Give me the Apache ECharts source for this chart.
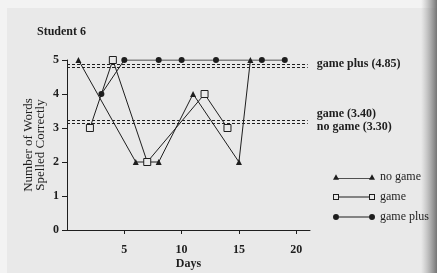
<!DOCTYPE html>
<html>
<head>
<meta charset="utf-8">
<script src="https://cdn.jsdelivr.net/npm/echarts@6/dist/echarts.min.js"></script>
<style>
  html, body { margin: 0; padding: 0; }
  #chart { width: 437px; height: 273px; }
</style>
</head>
<body>
<div id="chart"></div>
<script>
// days and scores
const noGameDays = [1, 6, 8, 11, 15, 16];
const noGameScores = [5, 2, 2, 4, 2, 5];
const gameDays = [2, 4, 7, 12, 14];
const gameScores = [3, 5, 2, 4, 3];
const gamePlusDays = [3, 5, 8, 10, 13, 17, 19];
const gamePlusScores = [4, 5, 5, 5, 5, 5, 5];

// dashed mean lines: where they sit on the plot, and their printed labels
const meanLevels = [4.88, 4.79, 3.23, 3.13];
const meanLabels = ['game plus (4.85)', '', 'game (3.40)\nno game (3.30)', ''];

const xTicks = [5, 10, 15, 20];
const seriesNames = ['no game', 'game', 'game plus'];

const FONT = '"Liberation Serif", "DejaVu Serif", serif';
const INK = '#1e1e1e';
const PAPER = '#e9e9e9';

function pairs(xs, ys) {
    return xs.map((x, i) => [x, ys[i]]);
}

let chart = echarts.init(document.getElementById('chart'));

let meanLines = meanLevels.map((v, i) => [
    { coord: [0, v], label: { formatter: meanLabels[i] } },
    { coord: [21, v] }
]);

let option = {
    backgroundColor: PAPER,
    animation: false,
    textStyle: { fontFamily: FONT, color: INK },
    title: {
        text: 'Student 6',
        left: 37,
        top: 26,
        padding: 0,
        textStyle: { fontFamily: FONT, fontSize: 12, fontWeight: 'bold', color: INK }
    },
    graphic: [
        { type: 'rect', left: 0, top: 0, shape: { width: 437, height: 8 }, style: { fill: '#f3f3f3' }, silent: true },
        { type: 'rect', left: 0, top: 0, shape: { width: 7, height: 273 }, style: { fill: '#f3f3f3' }, silent: true },
        {
            type: 'rect', right: 0, top: 0, shape: { width: 16, height: 273 }, silent: true,
            style: {
                fill: new echarts.graphic.LinearGradient(0, 0, 1, 0, [
                    { offset: 0, color: 'rgba(150,150,150,0)' },
                    { offset: 1, color: 'rgba(110,110,110,0.95)' }
                ])
            }
        }
    ],
    legend: {
        orient: 'vertical',
        left: 333,
        top: 171,
        padding: 0,
        itemWidth: 42,
        itemHeight: 7,
        itemGap: 8,
        selectedMode: false,
        textStyle: { fontFamily: FONT, fontSize: 12, color: INK },
        data: [
            { name: 'no game', icon: 'path://M0,7 L3,1.5 L6,7 Z M3,5.2 L39,5.2 L39,6 L3,6 Z M36,7 L39,1.5 L42,7 Z', itemStyle: { color: INK, borderWidth: 0 } },
            { name: 'game', icon: 'path://M0,0 L6,0 L6,6 L0,6 Z M1,1 L1,5 L5,5 L5,1 Z M6,2.6 L36,2.6 L36,3.4 L6,3.4 Z M36,0 L42,0 L42,6 L36,6 Z M37,1 L37,5 L41,5 L41,1 Z', itemStyle: { color: INK, borderWidth: 0 } },
            { name: 'game plus', icon: 'path://M0,3 A3,3 0 1,0 6,3 A3,3 0 1,0 0,3 Z M6,2.6 L36,2.6 L36,3.4 L6,3.4 Z M36,3 A3,3 0 1,0 42,3 A3,3 0 1,0 36,3 Z', itemStyle: { color: INK, borderWidth: 0 } }
        ]
    },
    grid: {
        left: 67,
        top: 60,
        width: 243,
        height: 170,
        outerBoundsMode: 'none'
    },
    xAxis: {
        type: 'value',
        min: 0,
        max: 21.2,
        interval: 5,
        name: 'Days',
        nameLocation: 'middle',
        nameGap: 28,
        nameMoveOverlap: false,
        nameTextStyle: { fontFamily: FONT, fontSize: 12, fontWeight: 'bold', color: INK },
        splitLine: { show: false },
        axisLine: { lineStyle: { color: INK, width: 1 } },
        axisTick: { length: 4, lineStyle: { color: INK }, customValues: xTicks },
        axisLabel: { margin: 14, fontFamily: FONT, fontSize: 12, fontWeight: 'bold', color: INK, customValues: xTicks }
    },
    yAxis: {
        type: 'value',
        min: 0,
        max: 5,
        interval: 1,
        name: 'Number of Words\nSpelled Correctly',
        nameLocation: 'middle',
        nameRotate: 90,
        nameGap: 20,
        nameMoveOverlap: false,
        nameTextStyle: { fontFamily: FONT, fontSize: 13, color: INK, lineHeight: 12 },
        splitLine: { show: false },
        axisLine: { show: true, lineStyle: { color: INK, width: 1 } },
        axisTick: { show: true, length: 5, lineStyle: { color: INK } },
        axisLabel: { margin: 8, fontFamily: FONT, fontSize: 12, fontWeight: 'bold', color: INK }
    },
    series: [
        {
            name: seriesNames[0],
            type: 'line',
            data: pairs(noGameDays, noGameScores),
            symbol: 'triangle',
            symbolSize: 6,
            lineStyle: { color: INK, width: 1 },
            itemStyle: { color: INK },
            z: 3
        },
        {
            name: seriesNames[1],
            type: 'line',
            data: pairs(gameDays, gameScores),
            symbol: 'rect',
            symbolSize: 7,
            lineStyle: { color: INK, width: 1 },
            itemStyle: { color: PAPER, borderColor: INK, borderWidth: 1 },
            z: 4
        },
        {
            name: seriesNames[2],
            type: 'line',
            data: pairs(gamePlusDays, gamePlusScores),
            symbol: 'circle',
            symbolSize: 6,
            lineStyle: { color: INK, width: 1 },
            itemStyle: { color: INK },
            z: 3,
            markLine: {
                silent: true,
                symbol: 'none',
                lineStyle: { color: INK, width: 1, type: [3, 2] },
                label: {
                    show: true,
                    position: 'end',
                    distance: 9,
                    fontFamily: FONT,
                    fontSize: 12,
                    lineHeight: 12.5,
                    fontWeight: 'bold',
                    color: INK
                },
                data: meanLines
            }
        }
    ]
};

chart.setOption(option);
</script>
</body>
</html>
